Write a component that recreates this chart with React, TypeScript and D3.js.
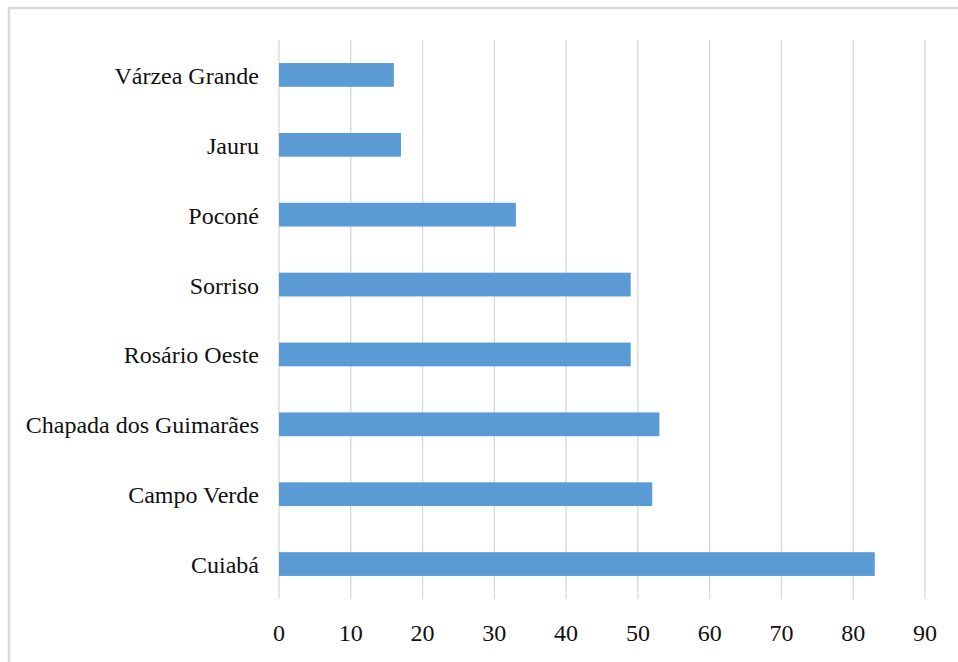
import React from "react";
import * as d3 from "d3";

// Municipalities, top to bottom
const categories = [
  "Várzea Grande",
  "Jauru",
  "Poconé",
  "Sorriso",
  "Rosário Oeste",
  "Chapada dos Guimarães",
  "Campo Verde",
  "Cuiabá",
];
const values = [16, 17, 33, 49, 49, 53, 52, 83];
const xTicks = [0, 10, 20, 30, 40, 50, 60, 70, 80, 90];

const W = 958;
const H = 662;
const margin = { left: 279, right: 33, top: 40, bottom: 63 };
const FONT = "Liberation Serif, Tinos, Times New Roman, DejaVu Serif, serif";

export default function App() {
  const x = d3
    .scaleLinear()
    .domain([0, 90])
    .range([margin.left, W - margin.right]);
  const y = d3
    .scaleBand<string>()
    .domain(categories)
    .range([margin.top, H - margin.bottom])
    .paddingInner(0.66)
    .paddingOuter(0.33);

  const bottom = H - margin.bottom;

  return (
    <svg
      width={W}
      height={H}
      style={{ position: "absolute", left: 0, top: 0, background: "#fff" }}
    >
      {/* outer frame */}
      <line x1={8} x2={W} y1={8} y2={8} stroke="#d9d9d9" strokeWidth={2.5} />
      <line x1={9} x2={9} y1={8} y2={H} stroke="#d9d9d9" strokeWidth={2.5} />

      {/* vertical gridlines */}
      {xTicks.map((t) => (
        <line
          key={"g" + t}
          x1={x(t)}
          x2={x(t)}
          y1={margin.top}
          y2={bottom}
          stroke="#d9d9d9"
          strokeWidth={1.3}
        />
      ))}

      {/* bars */}
      {categories.map((c, i) => (
        <rect
          key={c}
          x={x(0)}
          y={y(c)}
          width={x(values[i]) - x(0)}
          height={y.bandwidth()}
          fill="#5b9bd5"
        />
      ))}

      {/* category labels */}
      {categories.map((c) => (
        <text
          key={"l" + c}
          x={margin.left - 20}
          y={(y(c) as number) + y.bandwidth() / 2 + 1}
          textAnchor="end"
          dominantBaseline="central"
          style={{ fontFamily: FONT, fontSize: 24 }}
          fill="#111"
        >
          {c}
        </text>
      ))}

      {/* x tick labels */}
      {xTicks.map((t) => (
        <text
          key={"t" + t}
          x={x(t)}
          y={633}
          textAnchor="middle"
          dominantBaseline="central"
          style={{ fontFamily: FONT, fontSize: 24 }}
          fill="#111"
        >
          {t}
        </text>
      ))}
    </svg>
  );
}
